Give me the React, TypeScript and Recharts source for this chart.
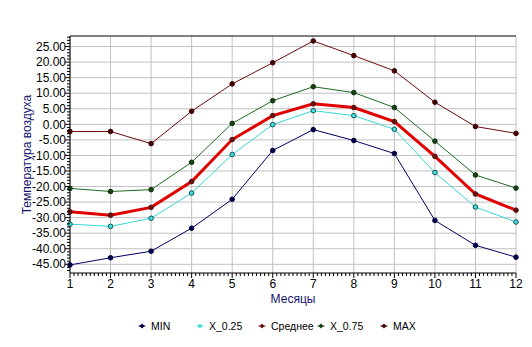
import React from 'react';
import { LineChart, Line, XAxis, YAxis, CartesianGrid, ReferenceLine } from 'recharts';

// monthly air temperature statistics
const months = [1, 2, 3, 4, 5, 6, 7, 8, 9, 10, 11, 12];
const minT = [-45.2, -42.9, -40.8, -33.4, -24.1, -8.4, -1.7, -5.2, -9.4, -30.9, -38.9, -42.7];
const q25 = [-32.1, -32.8, -30.2, -22.1, -9.7, -0.1, 4.4, 2.8, -1.6, -15.5, -26.6, -31.4];
const meanT = [-28.1, -29.2, -26.7, -18.4, -4.9, 2.8, 6.6, 5.4, 0.9, -10.3, -22.4, -27.6];
const q75 = [-20.6, -21.6, -21.0, -12.2, 0.3, 7.6, 12.1, 10.2, 5.4, -5.4, -16.3, -20.5];
const maxT = [-2.3, -2.3, -6.2, 4.2, 13.0, 19.8, 26.8, 22.1, 17.2, 7.1, -0.7, -2.9];

const yMajorTicks = [-45, -40, -35, -30, -25, -20, -15, -10, -5, 0, 5, 10, 15, 20, 25];
const yDomain = [-47.8, 28.4];

const series = [
  { key: 'min', name: 'MIN', color: '#000066', dot: '#000044', dotStroke: '#000044', width: 1 },
  { key: 'q25', name: 'X_0.25', color: '#33d9d9', dot: '#40e0e0', dotStroke: '#105050', width: 1 },
  { key: 'mean', name: 'Среднее', color: '#e00000', dot: '#6a1010', dotStroke: '#501010', width: 3 },
  { key: 'q75', name: 'X_0.75', color: '#1e6b1e', dot: '#144414', dotStroke: '#103010', width: 1 },
  { key: 'max', name: 'MAX', color: '#6e0a0a', dot: '#400000', dotStroke: '#400000', width: 1 },
];

const data = months.map((m, i) => ({
  month: m,
  min: minT[i],
  q25: q25[i],
  mean: meanT[i],
  q75: q75[i],
  max: maxT[i],
}));

// minor ticks: every 0.1 month and every 1 degree
const xMinorTicks: number[] = [];
for (let i = 10; i <= 120; i++) xMinorTicks.push(i / 10);
const yMinorTicks: number[] = [];
for (let v = -47; v <= 28; v++) yMinorTicks.push(v);

const FONT = 'Arial, "Liberation Sans", sans-serif';
const TITLE = '#14146e';

const isInt = (v: number) => Math.abs(v - Math.round(v)) < 1e-6;

function XTick(props: any) {
  const { x, y, payload } = props;
  const v = payload.value;
  const major = isInt(v);
  return (
    <g>
      <line x1={x} x2={x} y1={y} y2={y + (major ? 5 : 3)} stroke="#000" />
      {major && (
        <text x={x} y={y + 5} dy="0.8em" textAnchor="middle" fontSize={12} fontFamily={FONT} fill="#000">
          {Math.round(v)}
        </text>
      )}
    </g>
  );
}

function YTick(props: any) {
  const { x, y, payload } = props;
  const v = payload.value;
  const major = Math.round(v) % 5 === 0;
  return (
    <g>
      <line x1={x} x2={x - (major ? 5 : 3)} y1={y} y2={y} stroke="#000" />
      {major && (
        <text x={x - 4} y={y} dy="0.35em" textAnchor="end" fontSize={12} fontFamily={FONT} fill="#000">
          {v.toFixed(2)}
        </text>
      )}
    </g>
  );
}

// legend marker centres (px)
const legendCentre = [142, 200, 262, 321, 384];

function LegendMark({ color }: { color: string }) {
  return (
    <svg width={8} height={8} style={{ marginRight: 5 }}>
      <line x1={0.5} x2={7.5} y1={4} y2={4} stroke={color} strokeWidth={1} />
      <polygon points="4,1.5 6.5,4 4,6.5 1.5,4" fill={color} />
    </svg>
  );
}

export default function App() {
  return (
    <div style={{ position: 'absolute', left: 0, top: 0, width: 532, height: 347, background: '#fff', fontFamily: FONT }}>
      <LineChart width={532} height={347} data={data} margin={{ top: 36, right: 16, bottom: 44, left: 0 }}>
        <CartesianGrid
          stroke="#c0c0c0"
          horizontalValues={yMajorTicks}
          verticalValues={months}
        />
        <XAxis
          dataKey="month"
          type="number"
          domain={[1, 12]}
          ticks={xMinorTicks}
          interval={0}
          tickLine={false}
          tickSize={0}
          tickMargin={0}
          tick={<XTick />}
          axisLine={{ stroke: '#000' }}
          height={30}
          label={{ value: 'Месяцы', position: 'insideBottom', offset: 0, fill: TITLE, fontSize: 12, fontFamily: FONT }}
        />
        <YAxis
          type="number"
          domain={yDomain}
          allowDataOverflow
          ticks={yMinorTicks}
          interval={0}
          tickLine={false}
          tickSize={0}
          tickMargin={0}
          tick={<YTick />}
          axisLine={{ stroke: '#000' }}
          width={70}
          label={{
            value: 'Температура воздуха',
            angle: -90,
            position: 'insideLeft',
            offset: 27,
            fill: TITLE,
            fontSize: 12,
            fontFamily: FONT,
            style: { textAnchor: 'middle' },
          }}
        />
        <ReferenceLine y={yDomain[1]} stroke="#000" />
        {series.map((s) => (
          <Line
            key={s.key}
            dataKey={s.key}
            name={s.name}
            type="linear"
            stroke={s.color}
            strokeWidth={s.width}
            dot={{ r: 2.3, fill: s.dot, stroke: s.dotStroke, strokeWidth: 1 }}
            isAnimationActive={false}
          />
        ))}
      </LineChart>
      {series.map((s, i) => (
        <div
          key={s.key}
          style={{
            position: 'absolute',
            left: legendCentre[i] - 4,
            top: 319,
            display: 'flex',
            alignItems: 'center',
            fontSize: 10.5,
            lineHeight: '14px',
            color: '#000',
            whiteSpace: 'nowrap',
          }}
        >
          <LegendMark color={s.dot} />
          <span>{s.name}</span>
        </div>
      ))}
    </div>
  );
}
